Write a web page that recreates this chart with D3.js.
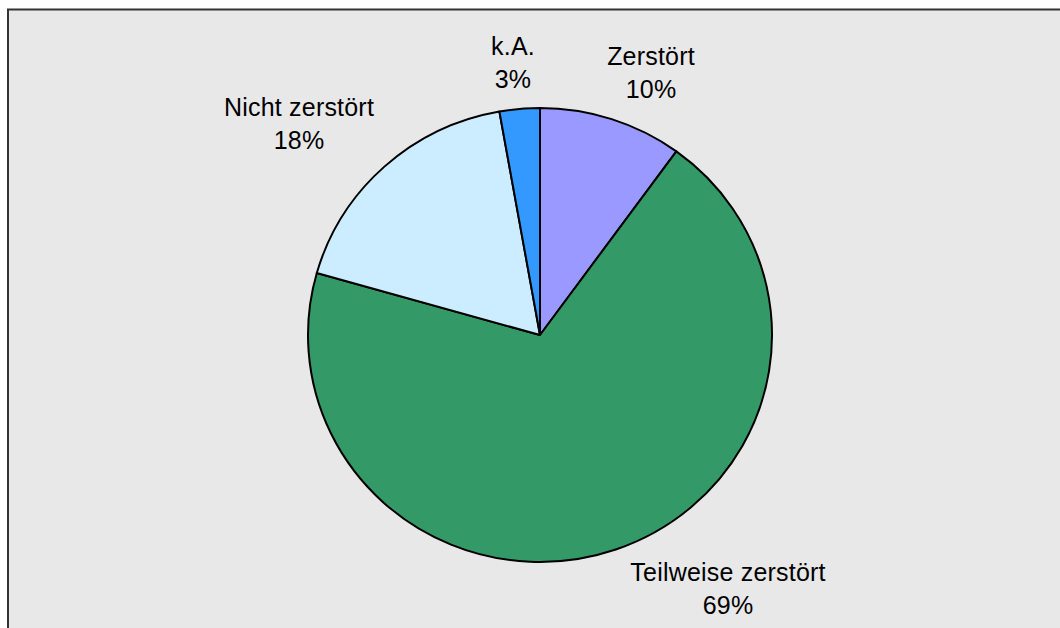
<!DOCTYPE html>
<html>
<head>
<meta charset="utf-8">
<script src="https://cdn.jsdelivr.net/npm/d3@7"></script>
<style>
  body { margin: 0; background: #fff; }
  svg { display: block; }
</style>
</head>
<body>
<svg></svg>
<script>
// data
const categories = ['Zerstört', 'Teilweise zerstört', 'Nicht zerstört', 'k.A.'];
const values = [10, 69.4, 17.8, 2.8];
const colors = ['#9999ff', '#339966', '#ccecff', '#3399ff'];

const width = 1060;
const height = 628;
const cx = 540, cy = 335;
const rx = 232, ry = 227;

// where Excel put the labels (x centre, first baseline), relative to pie centre
const labelAt = {
    'Zerstört': [111, -270],
    'Teilweise zerstört': [188, 246],
    'Nicht zerstört': [-241, -219],
    'k.A.': [-27, -280]
};

const data = categories.map((c, i) => ({ name: c, value: values[i], color: colors[i] }));
const total = d3.sum(values);

const svg = d3.select('svg')
              .attr('width', width)
              .attr('height', height);

svg.append('rect')
   .attr('x', 8)
   .attr('y', 9.5)
   .attr('width', width + 20)
   .attr('height', height + 20)
   .attr('fill', '#e8e8e8')
   .attr('stroke', '#333')
   .attr('stroke-width', 2);

const pie = d3.pie()
              .sort(null)
              .value(d => d.value);

const arc = d3.arc()
              .innerRadius(0)
              .outerRadius(rx);

const chart = svg.append('g')
                 .attr('transform', `translate(${cx},${cy})`);

chart.append('g')
     .attr('transform', `scale(1,${ry / rx})`)
     .selectAll('path')
     .data(pie(data))
     .enter()
     .append('path')
     .attr('d', arc)
     .attr('fill', d => d.data.color)
     .attr('stroke', '#000')
     .attr('stroke-width', 2)
     .attr('stroke-linejoin', 'round');

// labels
const fmt = d3.format('.0%');
const labels = chart.selectAll('text.lbl')
     .data(data)
     .enter()
     .append('text')
     .attr('class', 'lbl')
     .attr('text-anchor', 'middle')
     .attr('font-family', 'Liberation Sans, Arial, sans-serif')
     .attr('font-size', 25)
     .attr('letter-spacing', 0.2)
     .attr('fill', '#000')
     .attr('transform', d => `translate(${labelAt[d.name][0]},${labelAt[d.name][1]})`);

labels.append('tspan')
      .attr('x', 0)
      .attr('y', 0)
      .text(d => d.name);

labels.append('tspan')
      .attr('x', 0)
      .attr('y', 32.5)
      .text(d => fmt(d.value / total));
</script>
</body>
</html>
